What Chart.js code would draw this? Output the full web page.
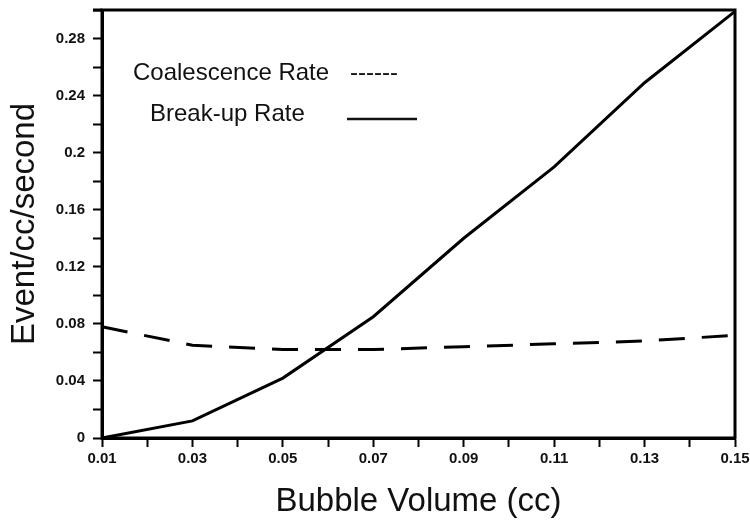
<!DOCTYPE html>
<html>
<head>
<meta charset="utf-8">
<script src="https://cdn.jsdelivr.net/npm/chart.js@4/dist/chart.umd.min.js"></script>
<style>
    body { margin: 0; background: #fff; }
    #rateChart { display: block; }
</style>
</head>
<body>
<canvas id="rateChart" width="750" height="527"></canvas>
<script>
// Data
const bubbleVolume = [0.01, 0.03, 0.05, 0.07, 0.09, 0.11, 0.13, 0.15];
const breakUpRate = [0.0, 0.012, 0.042, 0.085, 0.140, 0.190, 0.249, 0.299];
const coalescenceRate = [0.078, 0.065, 0.062, 0.062, 0.064, 0.066, 0.068, 0.072];

// Axis ticks (labels blank on minor ticks)
const xTicks = [0.01, 0.02, 0.03, 0.04, 0.05, 0.06, 0.07, 0.08, 0.09, 0.10, 0.11, 0.12, 0.13, 0.14, 0.15];
const xTickLabels = ['0.01', '', '0.03', '', '0.05', '', '0.07', '', '0.09', '', '0.11', '', '0.13', '', '0.15'];
const yTicks = [0, 0.02, 0.04, 0.06, 0.08, 0.10, 0.12, 0.14, 0.16, 0.18, 0.20, 0.22, 0.24, 0.26, 0.28, 0.30];
const yTickLabels = ['0', '', '0.04', '', '0.08', '', '0.12', '', '0.16', '', '0.2', '', '0.24', '', '0.28', ''];

const FONT = '"Liberation Sans", Arial, Helvetica, sans-serif';

function toPoints(values) {
    return bubbleVolume.map((x, i) => ({ x: x, y: values[i] }));
}

// Box round the plot area
const framePlugin = {
    id: 'frame',
    afterDraw(chart) {
        const { ctx, chartArea } = chart;
        ctx.save();
        ctx.strokeStyle = '#000';
        ctx.lineWidth = 3;
        ctx.strokeRect(chartArea.left, chartArea.top, chartArea.right - chartArea.left, chartArea.bottom - chartArea.top);
        // top edge runs a little past the left axis, as in the print
        ctx.beginPath();
        ctx.moveTo(chartArea.left - 9, chartArea.top);
        ctx.lineTo(chartArea.left, chartArea.top);
        ctx.stroke();
        ctx.restore();
    }
};

// Hand-written legend inside the plot
const noteLegendPlugin = {
    id: 'noteLegend',
    afterDraw(chart) {
        const { ctx, chartArea } = chart;
        const left = chartArea.left;
        const top = chartArea.top;
        ctx.save();
        ctx.fillStyle = '#111';
        ctx.font = '24px ' + FONT;
        ctx.textBaseline = 'middle';
        ctx.textAlign = 'left';
        ctx.fillText('Coalescence Rate', left + 31, top + 63);
        ctx.fillText('------', left + 248, top + 63);
        ctx.fillText('Break-up Rate', left + 48, top + 104);

        ctx.strokeStyle = '#111';
        ctx.lineWidth = 2.5;
        ctx.beginPath();
        ctx.moveTo(left + 245, top + 109);
        ctx.lineTo(left + 315, top + 109);
        ctx.stroke();
        ctx.restore();
    }
};

const ctx = document.getElementById('rateChart').getContext('2d');

new Chart(ctx, {
    type: 'line',
    data: {
        datasets: [
            {
                label: 'Coalescence Rate',
                data: toPoints(coalescenceRate),
                borderColor: '#000',
                borderWidth: 3,
                borderDash: [26, 17],
                pointRadius: 0,
                tension: 0,
                fill: false,
                clip: 4
            },
            {
                label: 'Break-up Rate',
                data: toPoints(breakUpRate),
                borderColor: '#000',
                borderWidth: 3,
                pointRadius: 0,
                tension: 0,
                fill: false,
                clip: 4
            }
        ]
    },
    options: {
        responsive: false,
        animation: false,
        devicePixelRatio: 1,
        layout: {
            padding: { top: 10, right: 15, left: 0, bottom: 0 }
        },
        plugins: {
            legend: { display: false },
            tooltip: { enabled: false }
        },
        scales: {
            x: {
                type: 'linear',
                min: 0.01,
                max: 0.15,
                afterBuildTicks: function(scale) {
                    scale.ticks = xTicks.map(v => ({ value: v }));
                },
                afterFit: function(scale) {
                    scale.height = 89;
                    scale.paddingLeft = 0;
                    scale.paddingRight = 0;
                },
                ticks: {
                    autoSkip: false,
                    maxRotation: 0,
                    padding: 3,
                    color: '#111',
                    font: { family: FONT, size: 15, weight: 'bold' },
                    callback: function(value, index) {
                        return xTickLabels[index];
                    }
                },
                grid: {
                    drawOnChartArea: false,
                    drawTicks: true,
                    tickLength: 9,
                    tickWidth: 2,
                    tickColor: '#000'
                },
                border: { display: true, color: '#000', width: 3 },
                title: {
                    display: true,
                    text: 'Bubble Volume (cc)',
                    color: '#111',
                    font: { family: FONT, size: 33 },
                    padding: { top: 0, bottom: 5 }
                }
            },
            y: {
                type: 'linear',
                min: 0,
                max: 0.3,
                afterBuildTicks: function(scale) {
                    scale.ticks = yTicks.map(v => ({ value: v }));
                },
                afterFit: function(scale) {
                    scale.width = 102;
                    scale.paddingTop = 0;
                    scale.paddingBottom = 0;
                },
                ticks: {
                    autoSkip: false,
                    padding: 8,
                    color: '#111',
                    font: { family: FONT, size: 15, weight: 'bold' },
                    callback: function(value, index) {
                        return yTickLabels[index];
                    }
                },
                grid: {
                    drawOnChartArea: false,
                    drawTicks: true,
                    tickLength: 9,
                    tickWidth: 2,
                    tickColor: '#000'
                },
                border: { display: true, color: '#000', width: 3 },
                title: {
                    display: true,
                    text: 'Event/cc/second',
                    color: '#111',
                    font: { family: FONT, size: 33 },
                    padding: { top: 5, bottom: 0 }
                }
            }
        }
    },
    plugins: [framePlugin, noteLegendPlugin]
});
</script>
</body>
</html>
